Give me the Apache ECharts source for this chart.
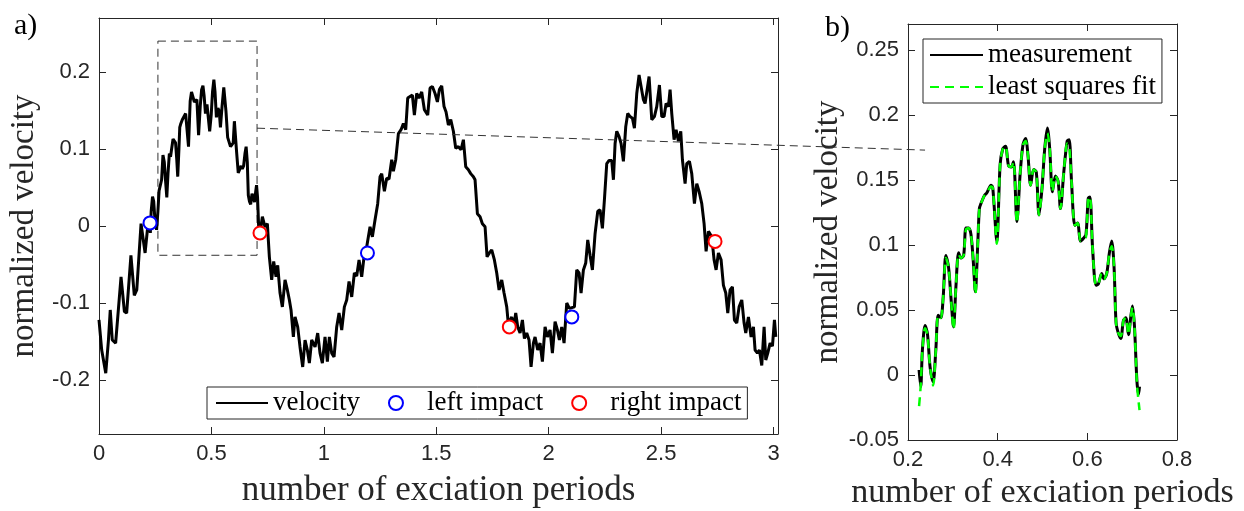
<!DOCTYPE html>
<html lang="en" style="height: 100%">
<head>
  <meta charset="utf-8" />
  <title>normalized velocity, impacts and least squares fit</title>
</head>
<body style="height: 100%; margin: 0">
  <div id="container" style="width: 1244px; height: 511px"></div>

  <script src="https://cdn.jsdelivr.net/npm/echarts@6/dist/echarts.min.js"></script>

  <script>
    // ---- data ----
    // panel a, before the zoomed window
    const preX = [0.000, 0.012, 0.030, 0.042, 0.050, 0.059, 0.074, 0.098, 0.113, 0.123, 0.142, 0.157, 0.168, 0.187, 0.205, 0.217];
    const preY = [-0.122, -0.161, -0.191, -0.148, -0.109, -0.148, -0.152, -0.066, -0.111, -0.113, -0.038, -0.090, -0.083, 0.003, -0.035, 0.000];

    // zoomed window (panel b), also part of the velocity in panel a
    const zoomX = [
      0.2247, 0.2284, 0.2321, 0.2381, 0.2433, 0.2493, 0.2561, 0.2620, 0.2673, 0.2732,
      0.2785, 0.2845, 0.2904, 0.2957, 0.3016, 0.3069, 0.3129, 0.3181, 0.3241, 0.3293,
      0.3353, 0.3405, 0.3457, 0.3502, 0.3555, 0.3592, 0.3629, 0.3704, 0.3756, 0.3853,
      0.3891, 0.3981, 0.4055, 0.4115, 0.4175, 0.4242, 0.4302, 0.4354, 0.4429, 0.4504,
      0.4564, 0.4623, 0.4676, 0.4735, 0.4803, 0.4862, 0.4922, 0.4990, 0.5049, 0.5109,
      0.5161, 0.5221, 0.5288, 0.5348, 0.5401, 0.5475, 0.5550, 0.5595, 0.5647, 0.5722,
      0.5782, 0.5849, 0.5909, 0.5969, 0.6021, 0.6058, 0.6118, 0.6193, 0.6245, 0.6320,
      0.6372, 0.6432, 0.6492, 0.6544, 0.6596, 0.6641, 0.6693, 0.6746, 0.6806, 0.6858,
      0.6918, 0.6970, 0.7007, 0.7052, 0.7105, 0.7142, 0.7164
    ];
    const measY = [
      0.004, -0.009, 0.019, 0.038, 0.032, 0.006, -0.005, 0.019, 0.046, 0.044,
      0.060, 0.092, 0.083, 0.060, 0.037, 0.068, 0.094, 0.090, 0.092, 0.113,
      0.113, 0.108, 0.087, 0.064, 0.100, 0.128, 0.132, 0.138, 0.140, 0.146,
      0.144, 0.103, 0.162, 0.174, 0.176, 0.161, 0.160, 0.164, 0.118, 0.156,
      0.177, 0.182, 0.169, 0.146, 0.158, 0.156, 0.123, 0.144, 0.174, 0.190,
      0.174, 0.141, 0.153, 0.149, 0.128, 0.156, 0.180, 0.181, 0.149, 0.115,
      0.117, 0.103, 0.105, 0.108, 0.136, 0.137, 0.097, 0.069, 0.070, 0.078,
      0.074, 0.078, 0.094, 0.103, 0.083, 0.040, 0.032, 0.028, 0.042, 0.044,
      0.031, 0.045, 0.053, 0.037, -0.004, -0.015, -0.009
    ];
    const fitY = [
      -0.024, -0.008, 0.019, 0.036, 0.031, 0.006, -0.008, 0.019, 0.046, 0.044,
      0.060, 0.090, 0.083, 0.060, 0.035, 0.068, 0.093, 0.090, 0.092, 0.112,
      0.113, 0.108, 0.087, 0.062, 0.100, 0.128, 0.132, 0.138, 0.140, 0.145,
      0.144, 0.101, 0.162, 0.174, 0.176, 0.161, 0.160, 0.164, 0.117, 0.156,
      0.177, 0.180, 0.169, 0.146, 0.158, 0.156, 0.123, 0.144, 0.174, 0.186,
      0.174, 0.141, 0.153, 0.149, 0.128, 0.156, 0.178, 0.176, 0.149, 0.115,
      0.117, 0.103, 0.105, 0.106, 0.136, 0.137, 0.097, 0.069, 0.070, 0.078,
      0.074, 0.078, 0.094, 0.099, 0.083, 0.040, 0.032, 0.030, 0.042, 0.044,
      0.031, 0.045, 0.052, 0.037, -0.006, -0.020, -0.027
    ];

    // panel a, after the zoomed window
    const postX = [
      0.7266, 0.7384, 0.7488, 0.7577, 0.7681, 0.7770, 0.7874, 0.7948, 0.8052, 0.8155,
      0.8274, 0.8378, 0.8467, 0.8541, 0.8645, 0.8719, 0.8837, 0.8941, 0.9060, 0.9164,
      0.9267, 0.9356, 0.9460, 0.9609, 0.9727, 0.9831, 0.9935, 1.0053, 1.0157, 1.0246,
      1.0350, 1.0454, 1.0572, 1.0676, 1.0795, 1.0913, 1.1017, 1.1121, 1.1240, 1.1358,
      1.1462, 1.1566, 1.1684, 1.1788, 1.1907, 1.2055, 1.2159, 1.2278, 1.2396, 1.2500,
      1.2574, 1.2693, 1.2796, 1.2900, 1.3019, 1.3093, 1.3197, 1.3316, 1.3434, 1.3538,
      1.3642, 1.3731, 1.3834, 1.3938, 1.4027, 1.4131, 1.4235, 1.4353, 1.4472, 1.4620,
      1.4724, 1.4828, 1.4947, 1.5050, 1.5139, 1.5243, 1.5347, 1.5436, 1.5540, 1.5644,
      1.5762, 1.5866, 1.5985, 1.6103, 1.6207, 1.6311, 1.6429, 1.6533, 1.6652, 1.6726,
      1.6830, 1.6948, 1.7052, 1.7171, 1.7260, 1.7363, 1.7467, 1.7586, 1.7690, 1.7794,
      1.7912, 1.8016, 1.8135, 1.8209, 1.8357, 1.8431, 1.8535, 1.8624, 1.8728, 1.8832,
      1.8921, 1.9024, 1.9128, 1.9217, 1.9321, 1.9395, 1.9513, 1.9617, 1.9721, 1.9840,
      1.9944, 2.0062, 2.0166, 2.0285, 2.0389, 2.0477, 2.0581, 2.0685, 2.0804, 2.0922,
      2.1145, 2.1249, 2.1352, 2.1441, 2.1545, 2.1649, 2.1738, 2.1842, 2.1945, 2.2064,
      2.2183, 2.2286, 2.2390, 2.2479, 2.2583, 2.2687, 2.2805, 2.2880, 2.2954, 2.3028,
      2.3132, 2.3221, 2.3324, 2.3428, 2.3517, 2.3621, 2.3725, 2.3814, 2.3918, 2.4021,
      2.4110, 2.4214, 2.4288, 2.4466, 2.4585, 2.4703, 2.4807, 2.4926, 2.5030, 2.5133,
      2.5222, 2.5326, 2.5400, 2.5475, 2.5578, 2.5667, 2.5771, 2.5875, 2.5949, 2.6068,
      2.6142, 2.6260, 2.6364, 2.6483, 2.6587, 2.6690, 2.6809, 2.6913, 2.7002, 2.7106,
      2.7254, 2.7358, 2.7447, 2.7550, 2.7669, 2.7773, 2.7877, 2.7966, 2.8069, 2.8173,
      2.8262, 2.8366, 2.8470, 2.8589, 2.8692, 2.8766, 2.8885, 2.9004, 2.9107, 2.9181,
      2.9285, 2.9374, 2.9478, 2.9582, 2.9656, 2.9745, 2.9849, 2.9953, 3.0042, 3.0101
    ];
    const postY = [
      0.012, -0.001, 0.003, -0.040, -0.070, -0.046, -0.066, -0.051, -0.087, -0.105,
      -0.070, -0.083, -0.096, -0.109, -0.144, -0.118, -0.131, -0.157, -0.183, -0.148,
      -0.161, -0.178, -0.148, -0.157, -0.139, -0.165, -0.178, -0.144, -0.176, -0.144,
      -0.165, -0.170, -0.131, -0.113, -0.135, -0.105, -0.096, -0.072, -0.092, -0.061,
      -0.065, -0.044, -0.066, -0.040, -0.027, -0.001, -0.014, 0.008, 0.029, 0.064,
      0.068, 0.045, 0.062, 0.061, 0.086, 0.071, 0.086, 0.120, 0.125, 0.133,
      0.125, 0.166, 0.168, 0.170, 0.144, 0.172, 0.166, 0.174, 0.151, 0.144,
      0.179, 0.181, 0.172, 0.161, 0.177, 0.182, 0.155, 0.148, 0.131, 0.138,
      0.123, 0.101, 0.103, 0.099, 0.112, 0.077, 0.073, 0.068, 0.064, 0.060,
      0.016, 0.012, 0.003, -0.001, -0.040, -0.035, -0.031, -0.044, -0.061, -0.083,
      -0.070, -0.087, -0.105, -0.128, -0.118, -0.135, -0.113, -0.131, -0.139, -0.122,
      -0.146, -0.139, -0.148, -0.183, -0.152, -0.144, -0.161, -0.152, -0.176, -0.131,
      -0.144, -0.135, -0.165, -0.124, -0.135, -0.148, -0.131, -0.152, -0.100, -0.107,
      -0.105, -0.057, -0.061, -0.087, -0.057, -0.048, -0.018, -0.038, -0.057, -0.010,
      0.019, 0.021, -0.003, 0.034, 0.081, 0.085, 0.085, 0.060, 0.107, 0.123,
      0.116, 0.107, 0.084, 0.129, 0.146, 0.142, 0.140, 0.127, 0.172, 0.196,
      0.181, 0.164, 0.159, 0.194, 0.138, 0.142, 0.155, 0.183, 0.142, 0.142,
      0.159, 0.155, 0.177, 0.146, 0.112, 0.125, 0.110, 0.123, 0.086, 0.055,
      0.081, 0.084, 0.068, 0.029, 0.055, 0.045, 0.029, 0.003, -0.033, -0.007,
      -0.014, -0.044, -0.057, -0.035, -0.044, -0.077, -0.087, -0.113, -0.083, -0.079,
      -0.122, -0.126, -0.105, -0.096, -0.126, -0.139, -0.118, -0.144, -0.131, -0.161,
      -0.165, -0.161, -0.181, -0.131, -0.174, -0.165, -0.152, -0.156, -0.122, -0.144
    ];

    // impacts
    const leftImpactX = [0.227, 1.194, 2.103];
    const leftImpactY = [0.004, -0.035, -0.118];
    const rightImpactX = [0.716, 1.825, 2.740];
    const rightImpactY = [-0.009, -0.131, -0.020];

    // dashed window in panel a and the link to panel b
    const zoomBoxX = [0.262, 0.703];
    const zoomBoxY = [-0.038, 0.240];
    const linkFrom = [0.703, 0.127];   // panel a coords
    const linkTo = [0.238, 0.173];     // panel b coords

    // ---- helpers ----
    function pairs(xs, ys) {
      const out = [];
      for (let i = 0; i < xs.length; i++) {
        out.push([xs[i], ys[i]]);
      }
      return out;
    }

    const velocity = pairs(preX.concat(zoomX, postX), preY.concat(measY, postY));
    const measurement = pairs(zoomX, measY);
    const lsFit = pairs(zoomX, fitY);

    const ink = '#262626';
    const serif = "'Liberation Serif', 'DejaVu Serif', serif";
    const sans = "'Liberation Sans', Arial, sans-serif";

    // main axis with labels; hideMin/hideMax drop the labels of odd extent ends
    function mainAxis(grid, pos, min, max, interval, name, nameSize, gap, hideMin, hideMax) {
      const ax = {
        gridIndex: grid,
        type: 'value',
        position: pos,
        min: min,
        max: max,
        name: name,
        nameLocation: 'middle',
        nameGap: gap,
        nameTextStyle: { fontFamily: serif, fontSize: nameSize, color: ink },
        axisLine: { show: true, onZero: false, lineStyle: { color: ink, width: 1 } },
        axisTick: { inside: true, length: 7, lineStyle: { color: ink } },
        axisLabel: {
          fontFamily: sans, fontSize: 22, color: ink, margin: 9,
          showMinLabel: !hideMin, showMaxLabel: !hideMax
        },
        splitLine: { show: false }
      };
      if (interval) ax.interval = interval;
      return ax;
    }

    // box side with inward ticks only
    function frameAxis(grid, pos, min, max, interval) {
      const ax = {
        gridIndex: grid,
        type: 'value',
        position: pos,
        min: min,
        max: max,
        axisLine: { show: true, onZero: false, lineStyle: { color: ink, width: 1 } },
        axisTick: { inside: true, length: 7, lineStyle: { color: ink } },
        axisLabel: { show: false },
        splitLine: { show: false }
      };
      if (interval) ax.interval = interval;
      return ax;
    }

    const legendText = { fontFamily: serif, fontSize: 27, color: '#000', lineHeight: 28 };

    var dom = document.getElementById('container');
    var myChart = echarts.init(dom);

    var option = {
      animation: false,
      backgroundColor: '#fff',
      title: [
        { text: 'a)', left: 9, top: 6, textStyle: { fontFamily: serif, fontSize: 30, fontWeight: 'normal', color: '#000' } },
        { text: 'b)', left: 820, top: 8, textStyle: { fontFamily: serif, fontSize: 30, fontWeight: 'normal', color: '#000' } }
      ],
      grid: [
        { left: 99, top: 18, width: 679, height: 416, containLabel: false, outerBoundsMode: 'none' },
        { left: 908, top: 24, width: 269, height: 416, containLabel: false, outerBoundsMode: 'none' }
      ],
      xAxis: [
        mainAxis(0, 'bottom', 0, 3.02, 0.5, 'number of exciation periods', 35, 39, false, true),
        frameAxis(0, 'top', 0, 3.02, 0.5),
        mainAxis(1, 'bottom', 0.2, 0.8, 0.2, 'number of exciation periods', 34, 35, false, false),
        frameAxis(1, 'top', 0.2, 0.8, 0.2)
      ],
      yAxis: [
        mainAxis(0, 'left', -0.27, 0.27, null, 'normalized velocity', 33, 55, true, true),
        frameAxis(0, 'right', -0.27, 0.27, null),
        mainAxis(1, 'left', -0.05, 0.27, 0.05, 'normalized velocity', 33, 51, false, true),
        frameAxis(1, 'right', -0.05, 0.27, 0.05)
      ],
      legend: [
        {
          data: [
            { name: 'velocity', itemStyle: { opacity: 0 } },
            'left impact',
            'right impact'
          ],
          left: 207,
          top: 387,
          orient: 'horizontal',
          itemWidth: 52,
          itemHeight: 14,
          itemGap: 28,
          padding: [2, 6, 2, 8],
          borderColor: ink,
          borderWidth: 1,
          backgroundColor: '#fff',
          selectedMode: false,
          textStyle: legendText
        },
        {
          data: [
            { name: 'measurement', itemStyle: { opacity: 0 } },
            { name: 'least squares fit', itemStyle: { opacity: 0 } }
          ],
          left: 923,
          top: 39,
          orient: 'vertical',
          itemWidth: 53,
          itemHeight: 14,
          itemGap: 4,
          padding: [2, 6, 2, 6],
          borderColor: ink,
          borderWidth: 1,
          backgroundColor: '#fff',
          selectedMode: false,
          textStyle: legendText
        }
      ],
      series: [
        {
          name: 'velocity',
          type: 'line',
          xAxisIndex: 0,
          yAxisIndex: 0,
          data: velocity,
          symbol: 'none',
          lineStyle: { color: '#000', width: 3 },
          itemStyle: { color: '#000' },
          markArea: {
            silent: true,
            itemStyle: { color: 'rgba(0,0,0,0)', borderColor: '#333', borderWidth: 1, borderType: [8, 5] },
            data: [[
              { coord: [zoomBoxX[0], zoomBoxY[1]] },
              { coord: [zoomBoxX[1], zoomBoxY[0]] }
            ]]
          },
          z: 2
        },
        {
          name: 'left impact',
          type: 'scatter',
          xAxisIndex: 0,
          yAxisIndex: 0,
          data: pairs(leftImpactX, leftImpactY),
          symbol: 'emptyCircle',
          symbolSize: 13,
          itemStyle: { color: '#0000ff', borderColor: '#0000ff', borderWidth: 2.5, opacity: 1 },
          z: 3
        },
        {
          name: 'right impact',
          type: 'scatter',
          xAxisIndex: 0,
          yAxisIndex: 0,
          data: pairs(rightImpactX, rightImpactY),
          symbol: 'emptyCircle',
          symbolSize: 13,
          itemStyle: { color: '#ff0000', borderColor: '#ff0000', borderWidth: 2.5, opacity: 1 },
          z: 3
        },
        {
          name: 'measurement',
          type: 'line',
          xAxisIndex: 2,
          yAxisIndex: 2,
          data: measurement,
          symbol: 'none',
          smooth: 0.3,
          lineStyle: { color: '#000', width: 3 },
          itemStyle: { color: '#000' },
          z: 2
        },
        {
          name: 'least squares fit',
          type: 'line',
          xAxisIndex: 2,
          yAxisIndex: 2,
          data: lsFit,
          symbol: 'none',
          smooth: 0.3,
          lineStyle: { color: '#00ff00', width: 2.5, type: [9, 6] },
          itemStyle: { color: '#00ff00' },
          z: 3
        }
      ]
    };

    myChart.setOption(option);

    // dashed link from the window in a) to panel b)
    const p1 = myChart.convertToPixel({ gridIndex: 0 }, linkFrom);
    const p2 = myChart.convertToPixel({ gridIndex: 1 }, linkTo);
    myChart.setOption({
      graphic: [{
        type: 'line',
        silent: true,
        z: 100,
        shape: { x1: p1[0], y1: p1[1], x2: p2[0], y2: p2[1] },
        style: { stroke: '#333', lineWidth: 1, lineDash: [8, 5] }
      }]
    });

    window.onresize = function() {
      myChart.resize();
    };
  </script>
</body>
</html>
